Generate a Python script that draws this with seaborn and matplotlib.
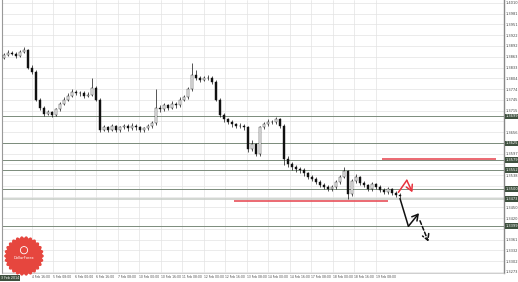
import numpy as np
import matplotlib
matplotlib.use("Agg")
import matplotlib.pyplot as plt
import matplotlib.transforms as mtransforms
import seaborn as sns

# ---------------- data ----------------
first_open = 1.3860
closes = [1.3868, 1.3874, 1.3871, 1.3865, 1.3876, 1.3882, 1.3833, 1.3822, 1.3745, 1.3723,
          1.3707, 1.3710, 1.3704, 1.3718, 1.3734, 1.3745, 1.3756, 1.3767, 1.3762, 1.3764,
          1.3756, 1.3759, 1.3778, 1.3745, 1.3663, 1.3669, 1.3663, 1.3672, 1.3661, 1.3669,
          1.3672, 1.3666, 1.3674, 1.3669, 1.3661, 1.3666, 1.3672, 1.3680, 1.3723, 1.3718,
          1.3729, 1.3723, 1.3734, 1.3729, 1.3745, 1.3751, 1.3773, 1.3813, 1.3805, 1.3800,
          1.3803, 1.3805, 1.3794, 1.3745, 1.3704, 1.3691, 1.3683, 1.3677, 1.3672, 1.3674,
          1.3669, 1.3609, 1.3623, 1.3595, 1.3669, 1.3677, 1.3685, 1.3683, 1.3691, 1.3674,
          1.3582, 1.3568, 1.3560, 1.3554, 1.3551, 1.3543, 1.3533, 1.3527, 1.3519, 1.3511,
          1.3505, 1.3500, 1.3505, 1.3519, 1.3533, 1.3549, 1.3486, 1.3522, 1.3533, 1.3516,
          1.3511, 1.3500, 1.3513, 1.3505, 1.3497, 1.3491, 1.3500, 1.3489, 1.3483, 1.3481]
highs = [1.3874, 1.3880, 1.3879, 1.3875, 1.3881, 1.3889, 1.3885, 1.3840, 1.3826, 1.3750,
         1.3727, 1.3716, 1.3714, 1.3722, 1.3739, 1.3752, 1.3762, 1.3774, 1.3772, 1.3770,
         1.3768, 1.3765, 1.3805, 1.3782, 1.3749, 1.3675, 1.3674, 1.3678, 1.3676, 1.3674,
         1.3679, 1.3677, 1.3680, 1.3678, 1.3673, 1.3671, 1.3677, 1.3686, 1.3773, 1.3730,
         1.3735, 1.3734, 1.3740, 1.3739, 1.3751, 1.3758, 1.3780, 1.3846, 1.3825, 1.3810,
         1.3809, 1.3812, 1.3809, 1.3798, 1.3749, 1.3708, 1.3695, 1.3688, 1.3682, 1.3680,
         1.3678, 1.3672, 1.3635, 1.3627, 1.3674, 1.3683, 1.3692, 1.3690, 1.3698, 1.3696,
         1.3678, 1.3590, 1.3575, 1.3565, 1.3560, 1.3557, 1.3548, 1.3538, 1.3532, 1.3524,
         1.3516, 1.3510, 1.3511, 1.3524, 1.3539, 1.3560, 1.3553, 1.3528, 1.3540, 1.3537,
         1.3521, 1.3515, 1.3518, 1.3517, 1.3510, 1.3502, 1.3505, 1.3504, 1.3494, 1.3490]
lows = [1.3855, 1.3864, 1.3866, 1.3860, 1.3862, 1.3872, 1.3828, 1.3815, 1.3740, 1.3716,
        1.3700, 1.3702, 1.3698, 1.3700, 1.3713, 1.3729, 1.3740, 1.3751, 1.3757, 1.3756,
        1.3750, 1.3751, 1.3754, 1.3740, 1.3657, 1.3658, 1.3656, 1.3659, 1.3655, 1.3657,
        1.3664, 1.3660, 1.3662, 1.3663, 1.3655, 1.3656, 1.3661, 1.3668, 1.3676, 1.3712,
        1.3713, 1.3717, 1.3719, 1.3722, 1.3725, 1.3740, 1.3747, 1.3769, 1.3798, 1.3794,
        1.3795, 1.3798, 1.3788, 1.3740, 1.3698, 1.3685, 1.3677, 1.3671, 1.3666, 1.3667,
        1.3662, 1.3602, 1.3604, 1.3590, 1.3591, 1.3664, 1.3672, 1.3677, 1.3679, 1.3668,
        1.3566, 1.3560, 1.3552, 1.3548, 1.3545, 1.3537, 1.3527, 1.3521, 1.3513, 1.3505,
        1.3499, 1.3494, 1.3495, 1.3501, 1.3515, 1.3529, 1.3473, 1.3482, 1.3517, 1.3511,
        1.3505, 1.3494, 1.3496, 1.3499, 1.3491, 1.3486, 1.3487, 1.3484, 1.3478, 1.3476]

level_prices = [1.3699, 1.3625, 1.3579, 1.3552, 1.3500, 1.3399]
bid_price = 1.3473
red_lines = [(57.5, 96.0, 1.3467), (94.4, 123.0, 1.3582)]
red_path_x = [98.6, 100.7, 102.1]
red_path_y = [1.3491, 1.3524, 1.3491]
black_path_x = [99.0, 101.1, 103.75]
black_path_y = [1.3474, 1.3398, 1.3434]
black_dash_x = [104.0, 106.1]
black_dash_y = [1.3413, 1.3356]

price_ticks = [1.4010, 1.3981, 1.3951, 1.3922, 1.3892, 1.3863, 1.3833, 1.3804, 1.3774,
               1.3745, 1.3715, 1.3686, 1.3656, 1.3627, 1.3597, 1.3568, 1.3538, 1.3509,
               1.3479, 1.3450, 1.3420, 1.3391, 1.3361, 1.3332, 1.3302, 1.3273]
date_labels = ["4 Feb 16:00", "5 Feb 08:00", "6 Feb 00:00", "6 Feb 16:00", "7 Feb 08:00",
               "10 Feb 00:00", "10 Feb 16:00", "11 Feb 08:00", "12 Feb 00:00", "12 Feb 16:00",
               "13 Feb 08:00", "14 Feb 00:00", "14 Feb 16:00", "17 Feb 08:00", "18 Feb 00:00",
               "18 Feb 16:00", "19 Feb 08:00"]

# ---------------- figure ----------------
sns.set_theme(style="white")
plt.rcParams['font.family'] = ['DejaVu Sans']

W, H = 518, 282
fig = plt.figure(figsize=(W / 100, H / 100), dpi=100)
fig.patch.set_facecolor("white")
ax = fig.add_axes([2 / W, 9 / H, 502 / W, 273 / H])
ax.set_facecolor("white")
ax.set_xlim(-0.5, 125.0)
ax.set_ylim(1.3270, 1.4018)

# ticks and grid
xt = [7.0 + 5.375 * i for i in range(len(date_labels))]
ax.set_xticks(xt)
ax.set_xticklabels(date_labels, ha="left", fontsize=2.2, color="#444444")
ax.set_yticks(price_ticks)
highlighted = level_prices + [bid_price]
ylabels = []
for v in price_ticks:
    near = min(abs(v - h) for h in highlighted) < 0.0013
    ylabels.append("" if near else f"{v:.4f}")
ax.set_yticklabels(ylabels, fontsize=2.6, color="#444444")
ax.yaxis.tick_right()
ax.tick_params(axis="both", length=0, pad=1.2)
ax.grid(True, color="#e3e3e3", lw=0.5)

ax.spines["top"].set_visible(False)
ax.spines["right"].set_color("#888888")
ax.spines["right"].set_linewidth(1.0)
ax.spines["left"].set_color("#999999")
ax.spines["left"].set_linewidth(0.8)
ax.spines["bottom"].set_color("#bbbbbb")
ax.spines["bottom"].set_linewidth(0.5)

# level lines
for lv in level_prices:
    ax.axhline(lv, color="#7b8c7b", lw=0.7, zorder=1)
ax.axhline(bid_price, color="#c5cbc5", lw=1.1, zorder=1)

# candles
n = len(closes)
opens = [first_open] + closes[:-1]
xs = np.arange(n)
ax.vlines(xs, lows, highs, color="#111111", lw=0.5, zorder=3)
for i in range(n):
    o, c = opens[i], closes[i]
    bull = c >= o
    ax.bar(i, max(abs(c - o), 0.00005), bottom=min(o, c), width=0.5,
           color="white" if bull else "#111111", edgecolor="#111111", lw=0.3, zorder=4)

# red horizontal lines
for x0, x1, yv in red_lines:
    ax.hlines(yv, x0, x1, color="#e8505a", lw=1.2, zorder=5)

# forecast arrows
head = "->,head_length=0.35,head_width=0.2"
sns.lineplot(x=red_path_x[:-1], y=red_path_y[:-1], color="#e8323c", lw=1.1,
             sort=False, estimator=None, ax=ax, zorder=6)
ax.annotate("", xy=(red_path_x[-1], red_path_y[-1]), xytext=(red_path_x[-2], red_path_y[-2]),
            arrowprops=dict(arrowstyle=head, color="#e8323c", lw=1.1, shrinkA=0, shrinkB=0),
            zorder=6)
sns.lineplot(x=black_path_x[:-1], y=black_path_y[:-1], color="#111111", lw=1.1,
             sort=False, estimator=None, ax=ax, zorder=6)
ax.annotate("", xy=(black_path_x[-1], black_path_y[-1]), xytext=(black_path_x[-2], black_path_y[-2]),
            arrowprops=dict(arrowstyle=head, color="#111111", lw=1.1, shrinkA=0, shrinkB=0),
            zorder=6)
ax.annotate("", xy=(black_dash_x[-1], black_dash_y[-1]), xytext=(black_dash_x[0], black_dash_y[0]),
            arrowprops=dict(arrowstyle=head, color="#111111", lw=1.1, ls=(0, (2.5, 1.5)),
                            shrinkA=0, shrinkB=0), zorder=6)

# highlighted level labels on the right axis
trans = mtransforms.blended_transform_factory(ax.transAxes, ax.transData)
for lv in highlighted:
    ax.text(1.003, lv, f"{lv:.4f}", transform=trans, fontsize=2.6, color="white",
            va="center", ha="left", zorder=10, clip_on=False,
            bbox=dict(boxstyle="square,pad=0.25", fc="#3f513f", ec="none"))

# bottom-left date box
fig.text(1 / W, 4.0 / H, "3 Feb 2014", fontsize=2.3, color="white", va="center", ha="left",
         bbox=dict(boxstyle="square,pad=0.3", fc="#3f513f", ec="none"))

# watermark badge
bax = fig.add_axes([4 / W, 6 / H, 40 / W, 40 / H])
bax.set_xlim(-1.1, 1.1)
bax.set_ylim(-1.1, 1.1)
bax.axis("off")
th = np.linspace(0, 2 * np.pi, 600)
r = 1.0 + 0.05 * np.cos(26 * th)
bax.fill(r * np.cos(th), r * np.sin(th), color="#e6463e", zorder=1)
circ = plt.Circle((0, 0.32), 0.2, fill=False, ec="white", lw=0.6)
bax.add_patch(circ)
bax.text(0, -0.12, "DollarForex", color="white", fontsize=2.6, ha="center", va="center")

fig.savefig("out.png", dpi=100, facecolor="white")
